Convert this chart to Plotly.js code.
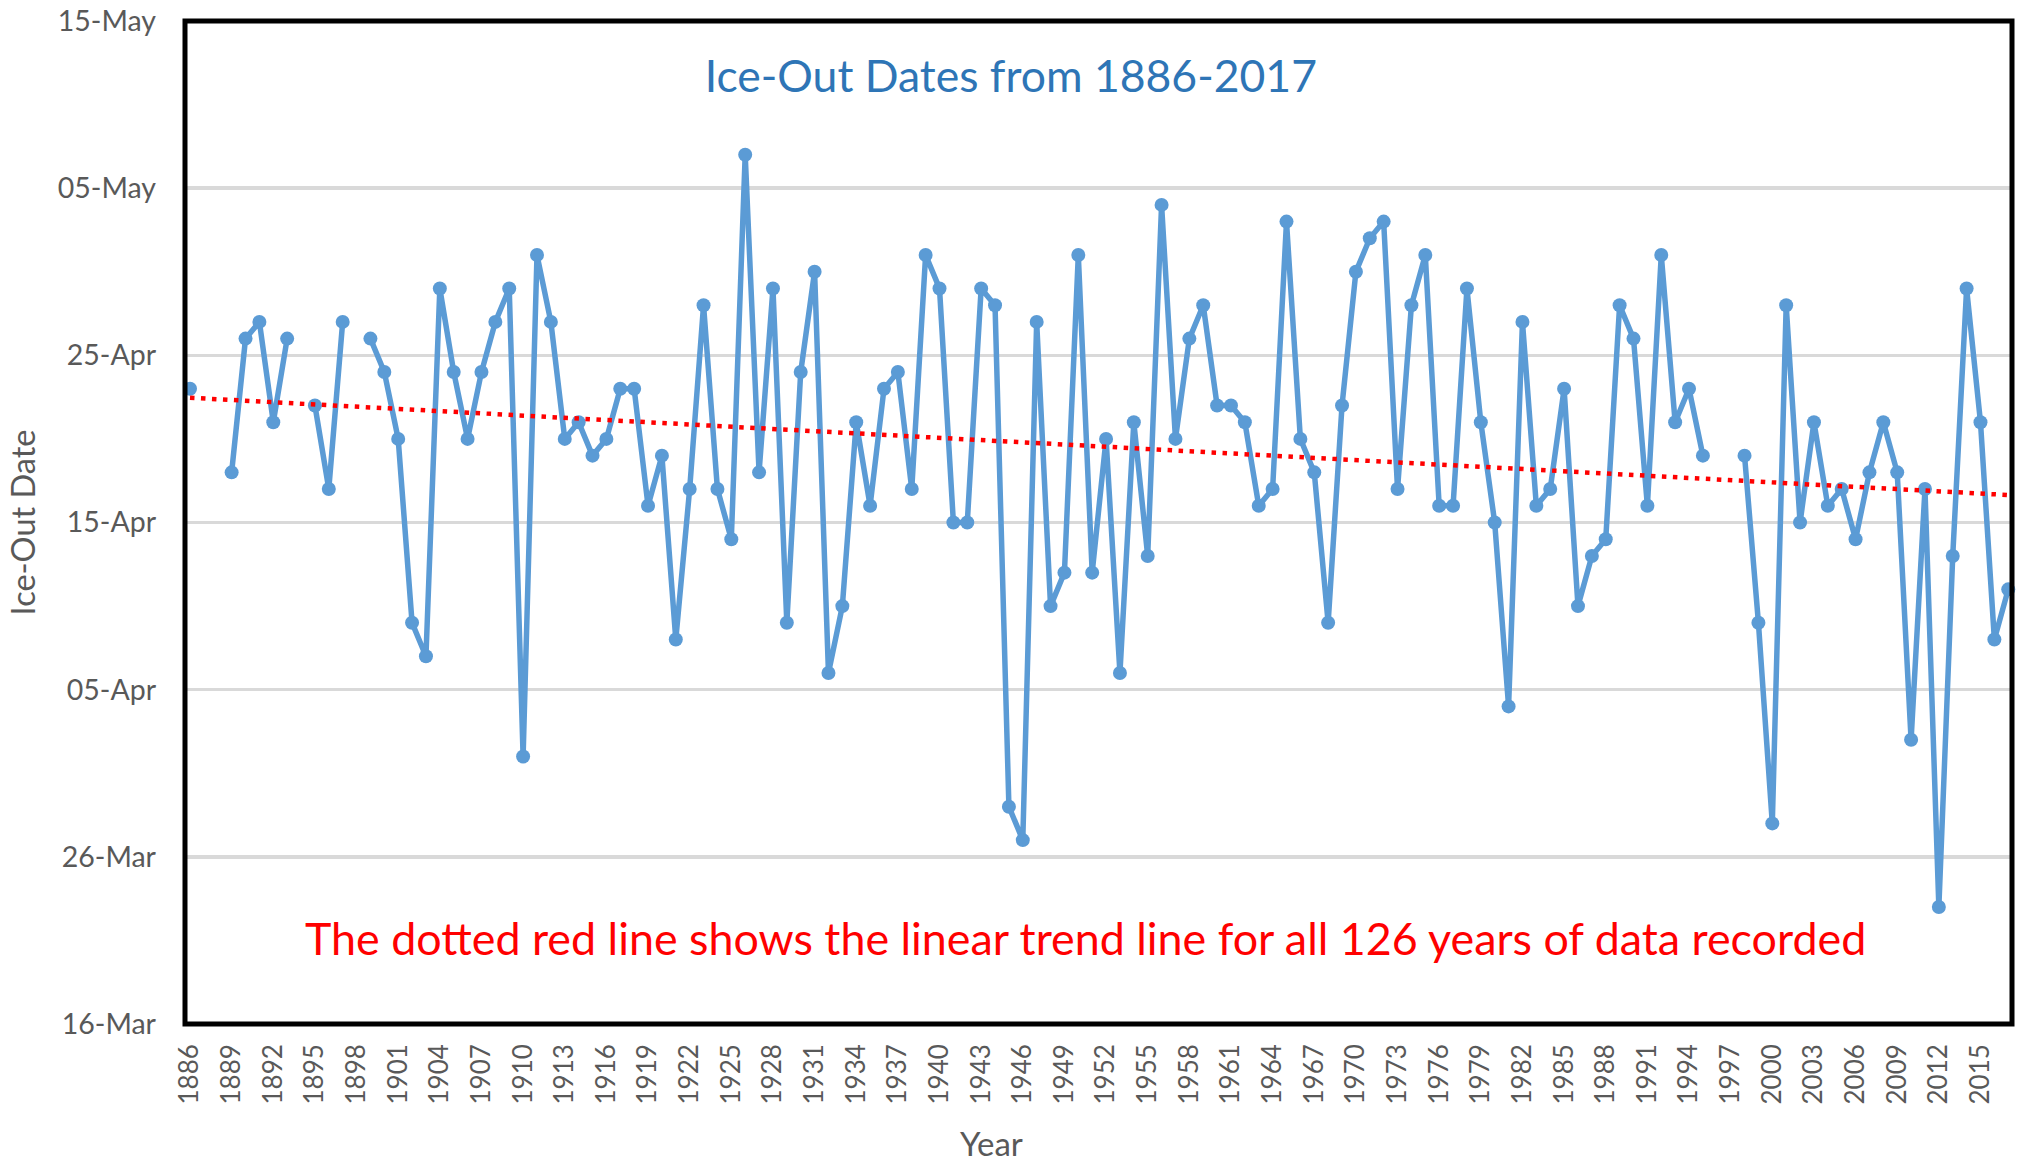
<!DOCTYPE html>
<html>
<head>
<meta charset="utf-8">
<script src="https://cdn.plot.ly/plotly-3.0.1.min.js"></script>
<style>
  html, body { margin: 0; padding: 0; background: #ffffff; }
  #chart { width: 2018px; height: 1163px; }
</style>
</head>
<body>
<div id="chart"></div>
<script>
// ---- Data ----
const years = [
  1886, 1889, 1890, 1891, 1892, 1893, 1895, 1896, 1897, 1899,
  1900, 1901, 1902, 1903, 1904, 1905, 1906, 1907, 1908, 1909,
  1910, 1911, 1912, 1913, 1914, 1915, 1916, 1917, 1918, 1919,
  1920, 1921, 1922, 1923, 1924, 1925, 1926, 1927, 1928, 1929,
  1930, 1931, 1932, 1933, 1934, 1935, 1936, 1937, 1938, 1939,
  1940, 1941, 1942, 1943, 1944, 1945, 1946, 1947, 1948, 1949,
  1950, 1951, 1952, 1953, 1954, 1955, 1956, 1957, 1958, 1959,
  1960, 1961, 1962, 1963, 1964, 1965, 1966, 1967, 1968, 1969,
  1970, 1971, 1972, 1973, 1974, 1975, 1976, 1977, 1978, 1979,
  1980, 1981, 1982, 1983, 1984, 1985, 1986, 1987, 1988, 1989,
  1990, 1991, 1992, 1993, 1994, 1995, 1998, 1999,
  2000, 2001, 2002, 2003, 2004, 2005, 2006, 2007, 2008, 2009,
  2010, 2011, 2012, 2013, 2014, 2015, 2016, 2017
];
// ice-out day (month-day), same order as years
const iceOut = [
  "04-23", "04-18", "04-26", "04-27", "04-21", "04-26", "04-22", "04-17", "04-27", "04-26",
  "04-24", "04-20", "04-09", "04-07", "04-29", "04-24", "04-20", "04-24", "04-27", "04-29",
  "04-01", "05-01", "04-27", "04-20", "04-21", "04-19", "04-20", "04-23", "04-23", "04-16",
  "04-19", "04-08", "04-17", "04-28", "04-17", "04-14", "05-07", "04-18", "04-29", "04-09",
  "04-24", "04-30", "04-06", "04-10", "04-21", "04-16", "04-23", "04-24", "04-17", "05-01",
  "04-29", "04-15", "04-15", "04-29", "04-28", "03-29", "03-27", "04-27", "04-10", "04-12",
  "05-01", "04-12", "04-20", "04-06", "04-21", "04-13", "05-04", "04-20", "04-26", "04-28",
  "04-22", "04-22", "04-21", "04-16", "04-17", "05-03", "04-20", "04-18", "04-09", "04-22",
  "04-30", "05-02", "05-03", "04-17", "04-28", "05-01", "04-16", "04-16", "04-29", "04-21",
  "04-15", "04-04", "04-27", "04-16", "04-17", "04-23", "04-10", "04-13", "04-14", "04-28",
  "04-26", "04-16", "05-01", "04-21", "04-23", "04-19", "04-19", "04-09",
  "03-28", "04-28", "04-15", "04-21", "04-16", "04-17", "04-14", "04-18", "04-21", "04-18",
  "04-02", "04-17", "03-23", "04-13", "04-29", "04-21", "04-08", "04-11"
];
const xTickLabels = [
  "1886", "1889", "1892", "1895", "1898", "1901", "1904", "1907", "1910", "1913",
  "1916", "1919", "1922", "1925", "1928", "1931", "1934", "1937", "1940", "1943",
  "1946", "1949", "1952", "1955", "1958", "1961", "1964", "1967", "1970", "1973",
  "1976", "1979", "1982", "1985", "1988", "1991", "1994", "1997", "2000", "2003",
  "2006", "2009", "2012", "2015"
];
const yTickDates = ["03-16", "03-26", "04-05", "04-15", "04-25", "05-05", "05-15"];
const yTickLabels = ["16-Mar", "26-Mar", "05-Apr", "15-Apr", "25-Apr", "05-May", "15-May"];

const titleText = "Ice-Out Dates from 1886-2017";
const xTitleText = "Year";
const yTitleText = "Ice-Out Date";
const noteText = "The dotted red line shows the linear trend line for all 126 years of data recorded";

// ---- Build traces ----
const BASE_YEAR = "2017"; // common non-leap year used to place month-day values
const toDate = md => BASE_YEAR + "-" + md;
const toMs = md => Date.parse(toDate(md) + "T00:00:00Z");

// full year sequence with gaps (null) for missing years so the line breaks
const lookup = {};
years.forEach((y, i) => { lookup[y] = iceOut[i]; });
const allYears = [];
const allVals = [];
for (let y = years[0]; y <= years[years.length - 1]; y++) {
  allYears.push(y);
  allVals.push(lookup[y] !== undefined ? toDate(lookup[y]) : null);
}

// least-squares linear trend over the recorded years
const xs = years;
const ys = iceOut.map(toMs);
const n = xs.length;
const mx = xs.reduce((a, b) => a + b, 0) / n;
const my = ys.reduce((a, b) => a + b, 0) / n;
let sxy = 0, sxx = 0;
for (let i = 0; i < n; i++) { sxy += (xs[i] - mx) * (ys[i] - my); sxx += (xs[i] - mx) ** 2; }
const slope = sxy / sxx;
const icpt = my - slope * mx;
const trendX = [allYears[0], allYears[allYears.length - 1]];
const trendY = trendX.map(x => icpt + slope * x);

const blue = "#5B9BD5";
const gray = "#595959";
const FONT = "Lato, 'Open Sans', sans-serif";

const traces = [
  {
    x: allYears, y: allVals, type: "scatter", mode: "lines+markers",
    connectgaps: false, cliponaxis: false,
    line: { color: blue, width: 5.5 },
    marker: { color: blue, size: 14 },
    hoverinfo: "x+y", showlegend: false
  },
  {
    x: trendX, y: trendY, type: "scatter", mode: "lines",
    line: { color: "#FF0000", width: 4.5, dash: "4.5px,6.5px" },
    hoverinfo: "skip", showlegend: false
  }
];

const layout = {
  width: 2018, height: 1163,
  paper_bgcolor: "#ffffff", plot_bgcolor: "#ffffff",
  margin: { l: 185, r: 6, t: 21, b: 139, pad: 0 },
  showlegend: false,
  font: { family: FONT, color: gray },
  title: {
    text: titleText,
    font: { family: FONT, size: 44.5, color: "#2E75B6" },
    x: 0.452, xref: "paper", xanchor: "center",
    y: 0.945, yref: "paper", yanchor: "middle"
  },
  xaxis: {
    type: "linear",
    range: [1885.64, 2017.27],
    tickmode: "array",
    tickvals: xTickLabels.map(Number),
    ticktext: xTickLabels,
    tickangle: -90,
    ticks: "",
    ticklabelstandoff: 14,
    tickfont: { family: FONT, size: 26, color: gray },
    showgrid: false, zeroline: false, showline: false
  },
  yaxis: {
    type: "date",
    range: [toDate(yTickDates[0]), toDate(yTickDates[yTickDates.length - 1])],
    tickmode: "array",
    tickvals: yTickDates.map(toDate),
    ticktext: yTickLabels,
    ticks: "",
    ticklabelstandoff: 28,
    tickfont: { family: FONT, size: 28.5, color: gray },
    showgrid: true, gridcolor: "#D9D9D9", gridwidth: 3.5,
    zeroline: false, showline: false,
    title: { text: yTitleText, font: { family: FONT, size: 32.5, color: gray }, standoff: 12 }
  },
  shapes: [
    {
      type: "rect", xref: "paper", yref: "paper", x0: 0, x1: 1, y0: 0, y1: 1,
      line: { color: "#000000", width: 5 }, fillcolor: "rgba(0,0,0,0)", layer: "above"
    }
  ],
  annotations: [
    {
      text: noteText, xref: "paper", yref: "paper",
      x: 0.493, y: 0.0857, xanchor: "center", yanchor: "middle",
      showarrow: false,
      font: { family: FONT, size: 44.8, color: "#FF0000" }
    },
    {
      text: xTitleText, xref: "paper", yref: "paper",
      x: 0.4417, y: -0.119, xanchor: "center", yanchor: "middle",
      showarrow: false,
      font: { family: FONT, size: 33, color: gray }
    }
  ]
};

Plotly.newPlot("chart", traces, layout, { displayModeBar: false, staticPlot: true });
</script>
</body>
</html>
